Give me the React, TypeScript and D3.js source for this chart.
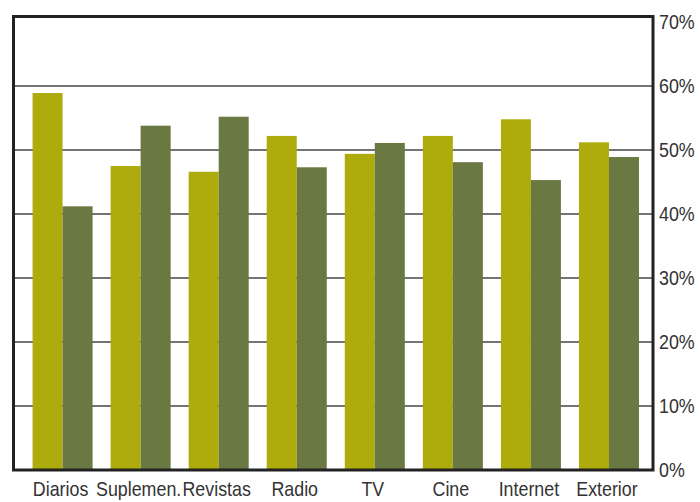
import React, { useEffect, useRef } from 'react';
import * as d3 from 'd3';

const categories = ['Diarios', 'Suplemen.', 'Revistas', 'Radio', 'TV', 'Cine', 'Internet', 'Exterior'];
const seriesA = [58.9, 47.5, 46.6, 52.2, 49.4, 52.2, 54.8, 51.2];
const seriesB = [41.2, 53.8, 55.2, 47.3, 51.1, 48.1, 45.3, 48.9];
const yTicks = [0, 10, 20, 30, 40, 50, 60, 70];

const colorA = '#aeac0d';
const colorB = '#6a7842';
const font = "'Liberation Sans', Arial, sans-serif";
const squeeze = 0.85; // narrow the face to mimic a condensed font

const width = 700;
const height = 502;

const App: React.FC = () => {
  const ref = useRef<SVGSVGElement | null>(null);

  useEffect(() => {
    if (!ref.current) return;
    const svg = d3.select(ref.current);
    svg.selectAll('*').remove();

    const left = 13.5;
    const right = 653;
    const top = 16.5;
    const bottom = 470;

    const x = d3
      .scaleBand<string>()
      .domain(categories)
      .range([left, right])
      .paddingInner(0.231)
      .paddingOuter(0.212)
      .align(0.576);

    const inner = d3
      .scaleBand<string>()
      .domain(['a', 'b'])
      .range([0, x.bandwidth()]);

    const y = d3.scaleLinear().domain([0, 70]).range([470, 22]);

    // gridlines
    svg
      .append('g')
      .selectAll('line')
      .data(yTicks.filter(t => t > 0 && t < 70))
      .enter()
      .append('line')
      .attr('x1', left)
      .attr('x2', right)
      .attr('y1', d => y(d))
      .attr('y2', d => y(d))
      .attr('stroke', '#444')
      .attr('stroke-width', 1.5);

    // bars
    const groups = svg
      .append('g')
      .selectAll('g')
      .data(categories)
      .enter()
      .append('g')
      .attr('transform', d => `translate(${x(d)},0)`);

    groups
      .append('rect')
      .attr('x', inner('a')!)
      .attr('width', inner.bandwidth())
      .attr('y', (_, i) => y(seriesA[i]))
      .attr('height', (_, i) => y(0) - y(seriesA[i]))
      .attr('fill', colorA);

    groups
      .append('rect')
      .attr('x', inner('b')!)
      .attr('width', inner.bandwidth())
      .attr('y', (_, i) => y(seriesB[i]))
      .attr('height', (_, i) => y(0) - y(seriesB[i]))
      .attr('fill', colorB);

    // frame
    svg
      .append('rect')
      .attr('x', left)
      .attr('y', top)
      .attr('width', right - left)
      .attr('height', bottom - top)
      .attr('fill', 'none')
      .attr('stroke', '#222')
      .attr('stroke-width', 3);

    // y labels on the right
    svg
      .append('g')
      .selectAll('text')
      .data(yTicks)
      .enter()
      .append('text')
      .attr('transform', d => `translate(659,${y(d)}) scale(${squeeze},1)`)
      .attr('dy', '0.35em')
      .attr('font-family', font)
      .attr('font-size', 21)
      .attr('fill', '#333')
      .text(d => `${d}%`);

    // x labels
    svg
      .append('g')
      .selectAll('text')
      .data(categories)
      .enter()
      .append('text')
      .attr('transform', d => `translate(${(x(d) ?? 0) + x.bandwidth() / 2 - 2},496) scale(${squeeze},1)`)
      .attr('text-anchor', 'middle')
      .attr('font-family', font)
      .attr('font-size', 21)
      .attr('fill', '#333')
      .text(d => d);
  }, []);

  return (
    <svg
      ref={ref}
      width={width}
      height={height}
      style={{ position: 'absolute', left: 0, top: 0, background: '#fff' }}
    />
  );
};

export default App;
